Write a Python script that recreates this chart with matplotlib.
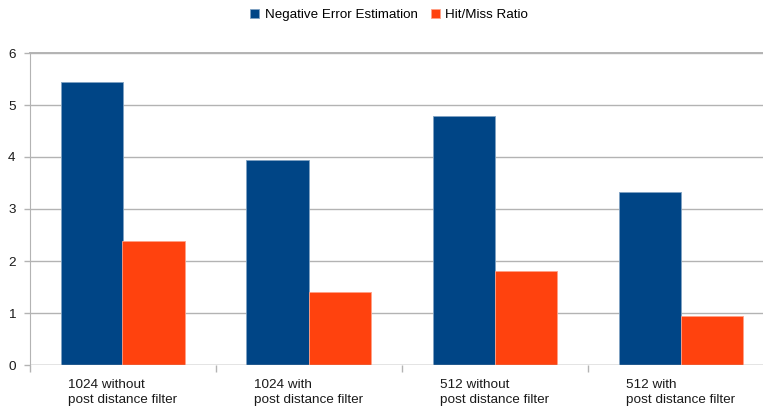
import matplotlib
matplotlib.use("Agg")
import matplotlib.pyplot as plt
import numpy as np

plt.rcParams['font.family'] = ['Liberation Sans', 'DejaVu Sans']

categories = ["1024 without\npost distance filter", "1024 with\npost distance filter",
              "512 without\npost distance filter", "512 with\npost distance filter"]
neg_error = [5.44, 3.94, 4.79, 3.33]
hit_miss = [2.38, 1.40, 1.81, 0.94]
series_names = ["Negative Error Estimation", "Hit/Miss Ratio"]
colors = ["#004586", "#ff420e"]

W, H = 763, 409
fig = plt.figure(figsize=(W / 100, H / 100), dpi=100)
left, right, top, bottom = 29.5, 773.5, 53, 365
ax = fig.add_axes([left / W, 1 - bottom / H, (right - left) / W, (bottom - top) / H])

x = np.arange(len(categories)) + 0.5
bw = 1 / 3
ax.bar(x - bw / 2, neg_error, bw, color=colors[0], edgecolor="#7fa2c2", linewidth=0.6,
       label=series_names[0], zorder=3)
ax.bar(x + bw / 2, hit_miss, bw, color=colors[1], edgecolor="#ffa087", linewidth=0.6,
       label=series_names[1], zorder=3)

ax.set_xlim(0, 4)
ax.set_ylim(0, 6)
ax.set_yticks(range(7))
ax.yaxis.grid(True, color="#b3b3b3", linewidth=1)
ax.set_axisbelow(True)

ax.set_xticks(np.arange(0, 5))
ax.set_xticklabels([])
ax.set_xticks(x, minor=True)
ax.set_xticklabels(categories, minor=True, multialignment="left", linespacing=1.4)
for lbl in ax.get_xticklabels(minor=True):
    lbl.set_horizontalalignment("center")
ax.tick_params(axis="x", which="minor", length=0, pad=10, labelsize=9.7, colors="#1a1a1a")
ax.tick_params(axis="x", which="major", length=5, color="#b3b3b3", width=1)
ax.tick_params(axis="y", length=4, color="#b3b3b3", width=1, labelsize=9.7,
               labelcolor="#1a1a1a", pad=6)

for s in ["right", "bottom"]:
    ax.spines[s].set_visible(False)
ax.spines["left"].set_color("#b3b3b3")
ax.spines["top"].set_color("#b3b3b3")
ax.spines["top"].set_linewidth(1.4)
ax.axhline(0, color="#b3b3b3", linewidth=1, zorder=4)

fig.legend(loc="upper center", bbox_to_anchor=(0.51, 1.0), ncol=2, frameon=False,
           fontsize=9.6, handlelength=0.7, handleheight=0.7, handletextpad=0.4,
           columnspacing=1.0, borderaxespad=0.25)

fig.savefig("out.png", dpi=100)
